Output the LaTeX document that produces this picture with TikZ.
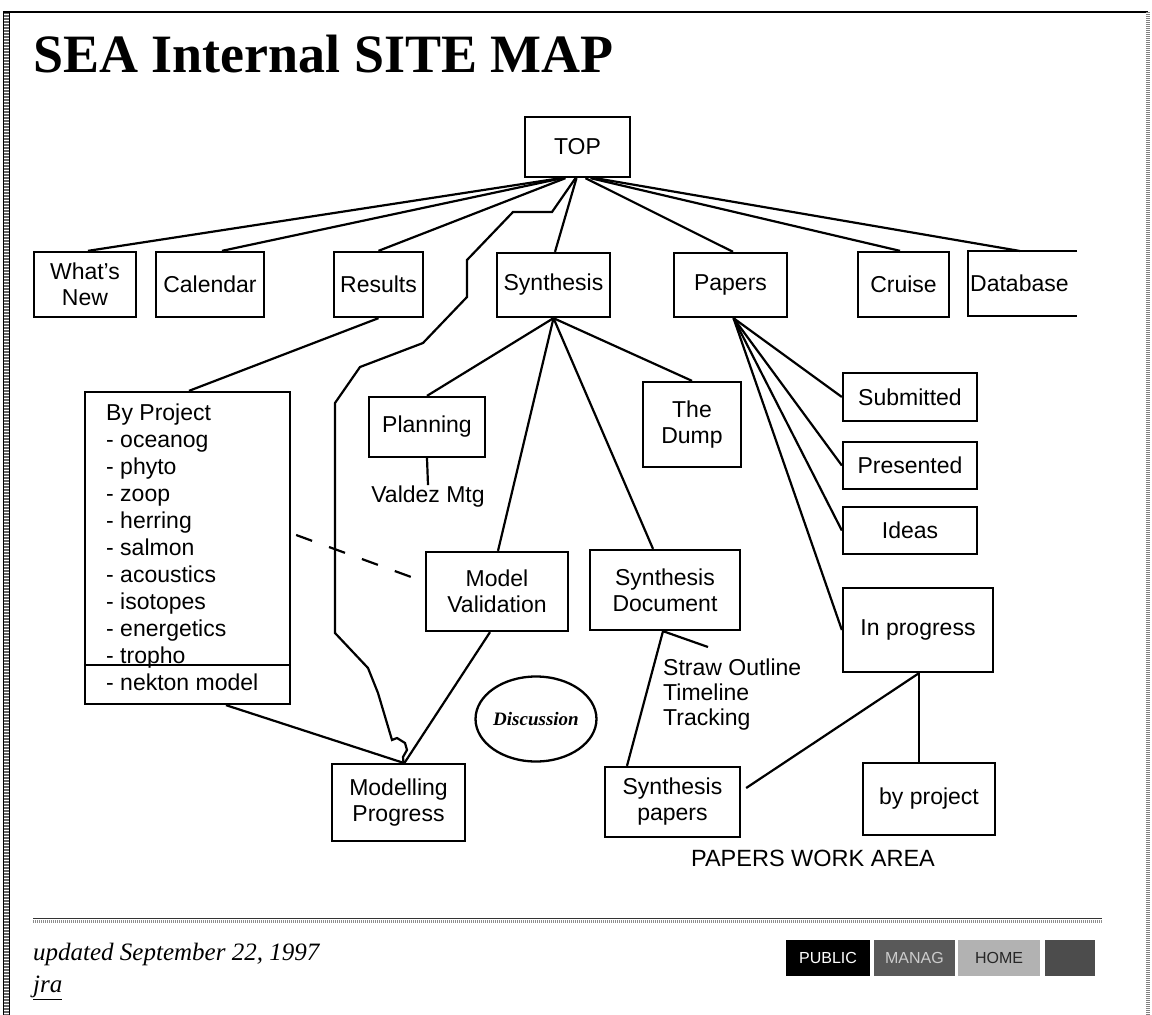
\documentclass[tikz,border=0pt]{standalone}
\usepackage{fontspec}
\setmainfont{Liberation Serif}
\setsansfont{Liberation Sans}
\usetikzlibrary{calc,shapes.geometric}
\newcommand\bxfont{\sffamily\fontsize{23}{26}\selectfont}
\begin{document}
\begin{tikzpicture}[x=1pt,y=-1pt,
  box/.style={draw, line width=2.3pt, inner sep=0pt, align=center, font=\bxfont},
  conn/.style={line width=2.2pt},
  lbl/.style={inner sep=0pt, font=\bxfont, align=left},
  btn/.style={inner sep=0pt, minimum height=36pt, font=\sffamily\fontsize{16}{16}\selectfont},
]
\useasboundingbox (0,0) rectangle (1152,1015);
\fill[white] (0,0) rectangle (1152,1015);
% frame
\draw[line width=6pt, black!60, dash pattern=on 1.5pt off 1.5pt] (6,12) -- (6,1015);
\draw[line width=1pt] (3,12) -- (3,1015);
\draw[line width=1pt] (9.5,12) -- (9.5,1015);
\draw[line width=2pt] (3,12) -- (1148,12);
\draw[line width=4pt, black!50, dash pattern=on 1pt off 1pt] (1148,12) -- (1148,1015);
% title
\node[anchor=base west, inner sep=0pt, font=\bfseries\fontsize{54}{54}\selectfont] (title) at (33,72) {SEA Internal SITE MAP};
% top level
\node[box, minimum width=105pt, minimum height=60pt] (top) at (577.5,147) {TOP};
\node[box, minimum width=102pt, minimum height=65pt] (whatsnew) at (85,284.5) {What's\\New};
\node[box, minimum width=108pt, minimum height=65pt] (calendar) at (210,284.5) {Calendar};
\node[box, minimum width=89pt, minimum height=65pt] (results) at (378.5,284.5) {Results};
\node[box, minimum width=113pt, minimum height=64pt] (synthesis) at (553.5,285) {Synthesis};
\node[box, minimum width=113pt, minimum height=64pt] (papers) at (730.5,285) {Papers};
\node[box, minimum width=91pt, minimum height=65pt] (cruise) at (903.5,284.5) {Cruise};
\draw[line width=2.3pt] (1077,251) -- (968,251) -- (968,316) -- (1077,316);
\node[lbl, anchor=west] (database) at (970,283.5) {Database};
\coordinate (dbtop) at (1020,251);
% second level
\node[box, minimum width=205pt, minimum height=312pt] (byproject) at (187.5,548) {};
\draw[line width=2.3pt] (byproject.west |- 0,665) -- (byproject.east |- 0,665);
\node[lbl, anchor=north west, font=\sffamily\fontsize{23}{27}\selectfont] (bplist) at (106,404)
  {By Project\\- oceanog\\- phyto\\- zoop\\- herring\\- salmon\\- acoustics\\- isotopes\\- energetics\\- tropho\\- nekton model};
\node[box, minimum width=116pt, minimum height=60pt] (planning) at (427,427) {Planning};
\node[lbl, inner sep=1pt] (valdez) at (428,497) {Valdez Mtg};
\node[box, minimum width=98pt, minimum height=85pt] (thedump) at (692,424.5) {The\\Dump};
\node[box, minimum width=134pt, minimum height=48pt] (submitted) at (910,397) {Submitted};
\node[box, minimum width=134pt, minimum height=47pt] (presented) at (910,465.5) {Presented};
\node[box, minimum width=134pt, minimum height=47pt] (ideas) at (910,530.5) {Ideas};
\node[box, minimum width=150pt, minimum height=84pt] (inprogress) at (918,630) {In progress};
\node[box, minimum width=142pt, minimum height=79pt] (modelval) at (497,591.5) {Model\\Validation};
\node[box, minimum width=150pt, minimum height=80pt] (synthdoc) at (665,590) {Synthesis\\Document};
\node[box, minimum width=133pt, minimum height=77pt] (modprog) at (398.5,802.5) {Modelling\\Progress};
\node[draw, ellipse, line width=2.3pt, inner sep=0pt, minimum width=107pt, minimum height=85pt,
  font=\rmfamily\itshape\bfseries\fontsize{19}{19}\selectfont] (discussion) at (536,719) {Discussion};
\node[box, minimum width=135pt, minimum height=70pt] (synthpapers) at (672.5,802) {Synthesis\\papers};
\node[box, minimum width=132pt, minimum height=72pt] (byproj2) at (929,799) {by project};
\node[lbl, anchor=north west, font=\sffamily\fontsize{23}{25}\selectfont] (straw) at (663,659) {Straw Outline\\Timeline\\Tracking};
\coordinate (strawend) at (708,647);
\node[lbl, font=\sffamily\fontsize{23.5}{24}\selectfont] (pwa) at (813,858) {PAPERS WORK AREA};
% connectors from TOP
\draw[conn] ([xshift=-17pt]top.south) -- ([xshift=3pt]whatsnew.north);
\draw[conn] ([xshift=-15pt]top.south) -- ([xshift=12pt]calendar.north);
\draw[conn] ([xshift=-12pt]top.south) -- (results.north);
\draw[conn] ([xshift=-1pt]top.south) -- ([xshift=1.5pt]synthesis.north);
\draw[conn] ([xshift=8pt]top.south) -- ([xshift=2.5pt]papers.north);
\draw[conn] ([xshift=13pt]top.south) -- ([xshift=-3.5pt]cruise.north);
\draw[conn] ([xshift=18pt]top.south) -- (dbtop);
\draw[conn] ([xshift=-2pt]top.south) -- (552,212) -- (513,212) -- (467,260) -- (467,297) -- (423,343)
  -- (360,367) -- (335,403) -- (335,633) -- (368,668) -- (378,693) -- (392,740) -- (397,738)
  -- (405,743) -- (407,750) -- (403,757) -- ([xshift=5pt]modprog.north);
% results
\draw[conn] (results.south) -- ([xshift=1.5pt]byproject.north);
% synthesis children
\draw[conn] (synthesis.south) -- (planning.north);
\draw[conn] (synthesis.south) -- ([xshift=1pt]modelval.north);
\draw[conn] (synthesis.south) -- ([xshift=-12pt]synthdoc.north);
\draw[conn] (synthesis.south) -- (thedump.north);
\draw[conn] (planning.south) -- (valdez.north);
% papers children
\draw[conn] ([xshift=3pt]papers.south) -- (submitted.west);
\draw[conn] ([xshift=3pt]papers.south) -- (presented.west);
\draw[conn] ([xshift=3pt]papers.south) -- (ideas.west);
\draw[conn] ([xshift=3pt]papers.south) -- (inprogress.west);
% lower
\draw[conn, dash pattern=on 17pt off 18pt] ($(byproject.east)+(5,-13)$) -- ($(modelval.west)+(0,-9.5)$);
\draw[conn] ([xshift=-7pt]modelval.south) -- ([xshift=6pt]modprog.north);
\draw[conn] ([xshift=38.5pt]byproject.south) -- ([xshift=5pt]modprog.north);
\draw[conn] ([xshift=-2pt]synthdoc.south) -- ([xshift=-45.5pt]synthpapers.north);
\draw[conn] ([xshift=-2pt]synthdoc.south) -- (strawend);
\coordinate (ipb) at ([xshift=1pt]inprogress.south);
\draw[conn] ($(synthpapers.east)+(5,-14)$) -- (ipb);
\draw[conn] (ipb) -- (ipb |- byproj2.north);
% footer
\draw[line width=1.5pt, black!80] (33,918.5) -- (1102,918.5);
\draw[line width=3pt, black!45, dash pattern=on 1pt off 1pt] (33,921) -- (1102,921);
\node[anchor=base west, inner sep=0pt, font=\itshape\fontsize{25}{25}\selectfont] (updated) at (33,960) {updated September 22, 1997};
\node[anchor=base west, inner sep=0pt, font=\itshape\fontsize{25}{25}\selectfont] (jra) at (33,992) {\underline{jra}};
\node[btn, fill=black, text=white, minimum width=84pt] (public) at (828,958) {PUBLIC};
\node[btn, fill=black!65, text=black!20, minimum width=81pt] (manag) at (914.5,958) {MANAG};
\node[btn, fill=black!30, text=black!85, minimum width=82pt] (home) at (999,958) {HOME};
\node[btn, fill=black!70, minimum width=50pt] (extra) at (1070,958) {};
\end{tikzpicture}
\end{document}
